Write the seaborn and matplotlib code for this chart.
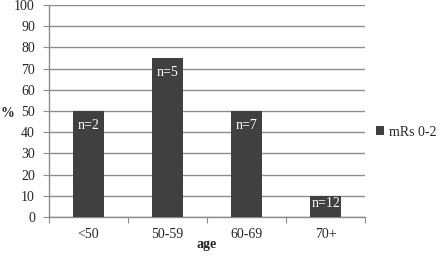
import pandas as pd
import matplotlib.pyplot as plt
import seaborn as sns

# data
ages = ['<50', '50-59', '60-69', '70+']
pct = [50, 75, 50, 10]
n_labels = ['n=2', 'n=5', 'n=7', 'n=12']

df = pd.DataFrame({'age': ages, 'pct': pct, 'group': 'mRs 0-2'})

sns.set_style('white')
plt.rcParams['font.family'] = ['Liberation Serif', 'DejaVu Serif']

fig = plt.figure(figsize=(4.4, 2.59), dpi=100)
ax = fig.add_axes([0.111, 0.162, 0.719, 0.819])

sns.barplot(data=df, x='age', y='pct', hue='group', palette=['#404040'],
            width=0.39, ax=ax, zorder=3, saturation=1, linewidth=0)

ax.set_ylim(0, 100)
ax.set_xlim(-0.5, 3.5)
ax.set_yticks(range(0, 101, 10))
ax.yaxis.grid(True, color='#8c8c8c', linewidth=1)
ax.set_axisbelow(True)
for s in ['top', 'right']:
    ax.spines[s].set_visible(False)
for s in ['left', 'bottom']:
    ax.spines[s].set_color('#8c8c8c')
    ax.spines[s].set_linewidth(1)

ax.set_xticks([-0.5, 0.5, 1.5, 2.5, 3.5], minor=False)
ax.set_xticklabels([])
ax.set_xticks([0, 1, 2, 3], minor=True)
ax.set_xticklabels(ages, minor=True)
ax.tick_params(axis='x', which='major', length=4, color='#8c8c8c', direction='out', bottom=True)
ax.tick_params(axis='x', which='minor', length=0, labelsize=10, pad=8)
ax.tick_params(axis='y', length=4, color='#8c8c8c', direction='out', left=True,
               labelsize=10, pad=6)

# value labels inside bars (short bar gets it lower relative to top)
for i, (v, t) in enumerate(zip(pct, n_labels)):
    ax.text(i, max(v - 6.8, v * 0.65), t, ha='center', va='center',
            color='white', fontsize=10, zorder=4)

ax.set_xlabel('age', fontweight='bold', fontsize=10)
ax.xaxis.set_label_coords(0.5, -0.1)
ax.set_ylabel('%', fontweight='bold', fontsize=10, rotation=0, va='center')
ax.yaxis.set_label_coords(-0.13, 0.49)

leg = ax.legend(loc='center left', bbox_to_anchor=(0.995, 0.4), frameon=False,
                fontsize=10, handlelength=0.6, handleheight=0.6, handletextpad=0.3)

fig.savefig('out.png', dpi=100)
